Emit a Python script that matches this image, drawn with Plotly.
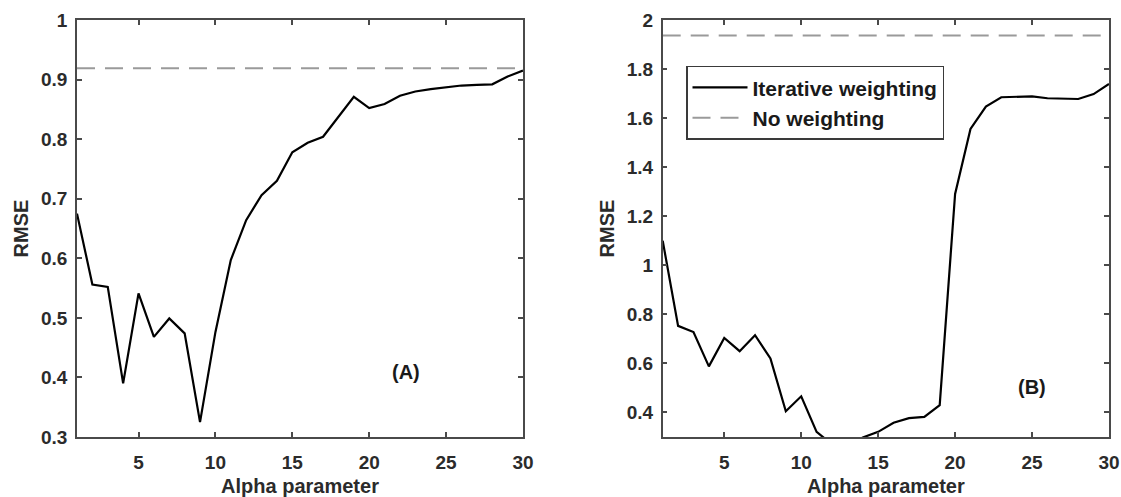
import plotly.graph_objects as go

alpha = list(range(1, 31))
rmse_iter_A = [0.675, 0.556, 0.552, 0.390, 0.541, 0.468, 0.499, 0.474, 0.325, 0.476,
               0.597, 0.664, 0.706, 0.730, 0.778, 0.794, 0.804, 0.838, 0.871, 0.852,
               0.859, 0.873, 0.880, 0.884, 0.887, 0.890, 0.891, 0.892, 0.905, 0.915]
rmse_none_A = 0.919

rmse_iter_B = [1.100, 0.753, 0.728, 0.588, 0.704, 0.650, 0.715, 0.620, 0.405, 0.466,
               0.321, 0.270, 0.260, 0.298, 0.321, 0.358, 0.377, 0.382, 0.430, 1.291,
               1.556, 1.647, 1.685, 1.686, 1.689, 1.681, 1.678, 1.678, 1.698, 1.739]
rmse_none_B = 1.937

x_label = "Alpha parameter"
y_label = "RMSE"
panel_labels = ["(A)", "(B)"]
series_names = ["Iterative weighting", "No weighting"]

FONT = "Liberation Sans, Arial, Helvetica, sans-serif"
TXT = "#2b2b2b"
AX = "#4a4a4a"

fig = go.Figure()
# Panel A
fig.add_trace(go.Scatter(x=alpha, y=rmse_iter_A, mode="lines", name=series_names[0],
                         line=dict(color="black", width=2.2), showlegend=False,
                         xaxis="x", yaxis="y"))
fig.add_trace(go.Scatter(x=[alpha[0], alpha[-1]], y=[rmse_none_A, rmse_none_A], mode="lines",
                         name=series_names[1], line=dict(color="#9a9a9a", width=2, dash="18px,10px"),
                         showlegend=False, xaxis="x", yaxis="y"))
# Panel B
fig.add_trace(go.Scatter(x=alpha, y=rmse_iter_B, mode="lines", name=series_names[0],
                         line=dict(color="black", width=2.2), showlegend=True,
                         xaxis="x2", yaxis="y2"))
fig.add_trace(go.Scatter(x=[alpha[0], alpha[-1]], y=[rmse_none_B, rmse_none_B], mode="lines",
                         name=series_names[1], line=dict(color="#9a9a9a", width=2, dash="18px,10px"),
                         showlegend=True, xaxis="x2", yaxis="y2"))

W, H = 1121, 497
ydom = [1 - 437 / H, 1 - 20 / H]

common_axis = dict(
    showline=True, linecolor=AX, linewidth=1.5, mirror="allticks",
    ticks="inside", ticklen=5, tickwidth=1.5, tickcolor=AX,
    showgrid=False, zeroline=False, automargin=False,
    tickfont=dict(family=FONT, size=19, color=TXT, weight="bold"),
)
title_font = dict(family=FONT, size=20, color=TXT, weight="bold")

fig.update_layout(
    width=W, height=H,
    margin=dict(l=0, r=0, t=0, b=0),
    paper_bgcolor="white", plot_bgcolor="white",
    xaxis=dict(domain=[77 / W, 523 / W], range=[1, 30], tickvals=[5, 10, 15, 20, 25, 30],
               anchor="y", ticklabelstandoff=7,
               title=dict(text=x_label, font=title_font, standoff=7),
               **common_axis),
    yaxis=dict(domain=ydom, range=[0.3, 1], dtick=0.1, tick0=0, anchor="x", ticklabelstandoff=4,
               title=dict(text=y_label, font=title_font, standoff=7),
               **common_axis),
    xaxis2=dict(domain=[662.7 / W, 1109 / W], range=[1, 30], tickvals=[5, 10, 15, 20, 25, 30],
                anchor="y2", ticklabelstandoff=7,
                title=dict(text=x_label, font=title_font, standoff=7),
                **common_axis),
    yaxis2=dict(domain=ydom, range=[0.3, 2], dtick=0.2, tick0=0, anchor="x2", ticklabelstandoff=4,
                title=dict(text=y_label, font=title_font, standoff=7),
                **common_axis),
    legend=dict(x=686 / W, y=1 - 65.7 / H, xanchor="left", yanchor="top",
                bgcolor="white", bordercolor="#3a3a3a", borderwidth=1.5,
                font=dict(family=FONT, size=21, color="#1a1a1a", weight="bold"),
                itemwidth=55, tracegroupgap=0),
    annotations=[
        dict(text=panel_labels[0], x=22.4, y=0.409, xref="x", yref="y", showarrow=False,
             font=dict(family=FONT, size=20, color="#1a1a1a", weight="bold")),
        dict(text=panel_labels[1], x=25.0, y=0.504, xref="x2", yref="y2", showarrow=False,
             font=dict(family=FONT, size=20, color="#1a1a1a", weight="bold")),
    ],
)

fig.write_html("out.html")
